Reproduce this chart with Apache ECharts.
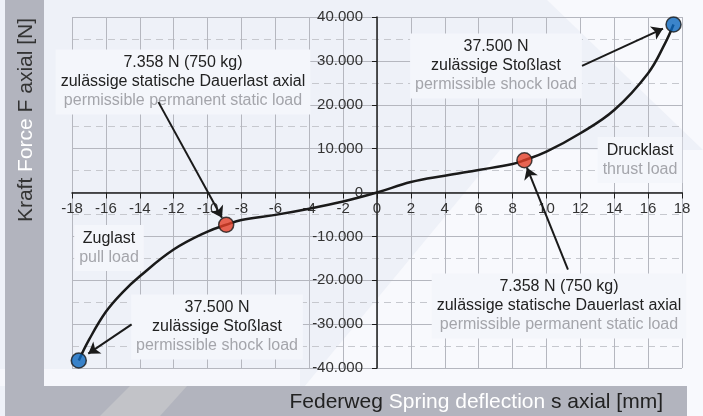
<!DOCTYPE html>
<html>
<head>
<meta charset="utf-8">
<script src="https://cdn.jsdelivr.net/npm/echarts@6/dist/echarts.min.js"></script>
<style>
  html, body { margin: 0; padding: 0; background: #eef1f8; }
  #chart { width: 703px; height: 416px; }
</style>
</head>
<body>
<div id="chart"></div>
<script>
// spring curve: deflection s [mm] -> force F [N]
const deflection = [-17.6, -17, -16, -15, -14, -12, -10, -8.9, -8, -6, -4, -2, 0, 2, 4, 6, 8, 8.7, 10, 12, 14, 16, 17, 17.5];
const force = [-38300, -33600, -27200, -22700, -19100, -13000, -8900, -7358, -6250, -5100, -3700, -2050, 0, 2380, 3830, 5130, 6500, 7358, 9300, 13500, 18800, 27200, 34000, 38300];

// marked load points
const pointS = [-17.6, -8.9, 8.7, 17.5];
const pointF = [-38300, -7358, 7358, 38300];
const pointColor = ['#0b66bd', '#e43f27', '#e43f27', '#0b66bd'];

// arrows [from, to] in axis units
const arrows = [
  [[-12.9, 20600], [-9.15, -5750]],
  [[11.27, -17570], [8.85, 5650]],
  [[12.1, 28860], [16.88, 37360]],
  [[-14.48, -30070], [-17.04, -36730]]
];

const xMin = -18, xMax = 18, xStep = 2;
const yMin = -40000, yMax = 40000, yStep = 10000;

const W = 703, H = 416;
const grid = { left: 72, right: 21, top: 17, bottom: 48 };
const plotW = W - grid.left - grid.right;
const plotH = H - grid.top - grid.bottom;
// axes cross at zero: shift them in from the grid edges
const yOffset = -plotW * (0 - xMin) / (xMax - xMin);
const xOffset = -plotH * (0 - yMin) / (yMax - yMin);

const fmtThousands = v => String(v).replace(/\B(?=(\d{3})+(?!\d))/g, '.');

const chart = echarts.init(document.getElementById('chart'));

const FONT = 'Liberation Sans';
const rich = {
  a: { fill: '#222', fontSize: 16, lineHeight: 19, fontFamily: FONT },
  b: { fill: '#a4a5ab', fontSize: 16, lineHeight: 19, fontFamily: FONT }
};
const note = (x, y, text) => ({
  type: 'text', z: 2, x: x, y: y,
  style: {
    text: text, rich: rich, align: 'center', verticalAlign: 'middle',
    backgroundColor: '#f4f6fb', padding: [4, 5]
  }
});

const option = {
  backgroundColor: '#eef1f8',
  animation: false,
  grid: grid,
  xAxis: {
    type: 'value', min: xMin, max: xMax, interval: xStep, z: 1,
    position: 'bottom', offset: xOffset,
    axisLine: { onZero: false, lineStyle: { color: '#1e1e1e', width: 1.5 } },
    axisTick: { show: true, length: 6, lineStyle: { color: '#1e1e1e' } },
    axisLabel: { color: '#333', fontSize: 15, margin: 9, fontFamily: FONT },
    splitLine: { show: true, lineStyle: { color: '#b5b7bf', width: 1 } }
  },
  yAxis: {
    type: 'value', min: yMin, max: yMax, interval: yStep, z: 1,
    position: 'left', offset: yOffset,
    axisLine: { onZero: false, lineStyle: { color: '#1e1e1e', width: 1.5 } },
    axisTick: { show: true, length: 5, lineStyle: { color: '#1e1e1e' } },
    axisLabel: { color: '#333', fontSize: 15, margin: 14, fontFamily: FONT, formatter: fmtThousands },
    splitLine: { show: true, lineStyle: { color: '#b5b7bf', width: 1 } },
    minorTick: { show: false, splitNumber: 2 },
    minorSplitLine: { show: true, lineStyle: { color: '#c6c8ce', width: 1, type: [7, 5] } }
  },
  graphic: [
    // light watermark areas
    { type: 'polygon', z: 0, shape: { points: [[547, 0], [703, 0], [703, 150]] }, style: { fill: '#f8f9fd' } },
    { type: 'polygon', z: 0, shape: { points: [[500, 150], [703, 150], [703, 416], [280, 416]] }, style: { fill: '#f8f9fd' } },
    { type: 'rect', z: 0, shape: { x: 0, y: 369, width: 300, height: 17 }, style: { fill: '#f6f7fc' } },
    // left and bottom bands
    { type: 'rect', z: 0, shape: { x: 5, y: 0, width: 39, height: 386 }, style: { fill: '#b2b4be' } },
    { type: 'rect', z: 0, shape: { x: 5, y: 386, width: 682, height: 30 }, style: { fill: '#b2b4be' } },
    { type: 'polygon', z: 0, shape: { points: [[100, 416], [130, 386], [187, 386], [160, 416]] }, style: { fill: '#c2c3c8' } },
    {
      type: 'text', z: 2, x: 26, y: 120, rotation: Math.PI / 2,
      style: {
        text: '{d|Kraft }{w|Force }{d|F axial [N]}',
        align: 'center', verticalAlign: 'middle',
        rich: {
          d: { fill: '#333', fontSize: 21, fontFamily: FONT },
          w: { fill: '#fff', fontSize: 21, fontFamily: FONT }
        }
      }
    },
    {
      type: 'text', z: 2, x: 663, y: 402,
      style: {
        text: '{d|Federweg }{w|Spring deflection }{d|s axial [mm]}',
        align: 'right', verticalAlign: 'middle',
        rich: {
          d: { fill: '#222', fontSize: 21, fontFamily: FONT },
          w: { fill: '#fff', fontSize: 21, fontFamily: FONT }
        }
      }
    },
    note(183, 82, '{a|7.358 N (750 kg)}\n{a|zulässige statische Dauerlast axial}\n{b|permissible permanent static load}'),
    note(496, 66, '{a|37.500 N}\n{a|zulässige Stoßlast}\n{b|permissible shock load}'),
    note(640, 160, '{a|Drucklast}\n{b|thrust load}'),
    note(109, 248, '{a|Zuglast}\n{b|pull load}'),
    note(217, 327, '{a|37.500 N}\n{a|zulässige Stoßlast}\n{b|permissible shock load}'),
    note(559, 306, '{a|7.358 N (750 kg)}\n{a|zulässige statische Dauerlast axial}\n{b|permissible permanent static load}')
  ],
  series: [
    {
      type: 'line', z: 3,
      data: deflection.map((s, i) => [s, force[i]]),
      smooth: 0.4,
      showSymbol: false,
      lineStyle: { color: '#1a1a1a', width: 2.5 },
      markLine: {
        silent: true,
        symbol: ['none', 'arrow'], symbolSize: 11,
        label: { show: false },
        lineStyle: { color: '#1a1a1a', width: 2, type: 'solid' },
        data: arrows.map(a => [{ coord: a[0] }, { coord: a[1] }])
      }
    },
    {
      type: 'scatter', z: 4,
      data: pointS.map((s, i) => ({ value: [s, pointF[i]], itemStyle: { color: pointColor[i] } })),
      symbolSize: 15,
      itemStyle: { borderColor: '#1a1a1a', borderWidth: 1.5 }
    }
  ]
};

chart.setOption(option);
</script>
</body>
</html>
